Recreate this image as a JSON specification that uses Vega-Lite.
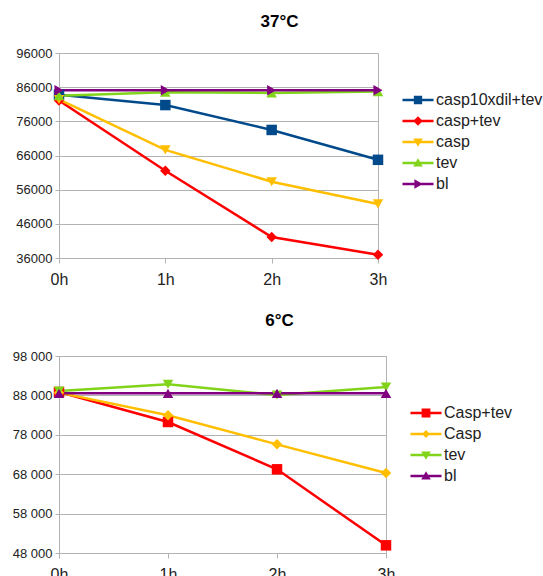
{
  "$schema": "https://vega.github.io/schema/vega-lite/v6.json",
  "background": "white",
  "padding": {"left": 11, "top": 12, "right": 0, "bottom": 5},
  "spacing": 23,
  "datasets": {
    "t37": [
      {"series": "casp10xdil+tev", "time": "0h", "value": 83800},
      {"series": "casp10xdil+tev", "time": "1h", "value": 80760},
      {"series": "casp10xdil+tev", "time": "2h", "value": 73480},
      {"series": "casp10xdil+tev", "time": "3h", "value": 64740},
      {"series": "casp+tev", "time": "0h", "value": 82100},
      {"series": "casp+tev", "time": "1h", "value": 61530},
      {"series": "casp+tev", "time": "2h", "value": 42120},
      {"series": "casp+tev", "time": "3h", "value": 36970},
      {"series": "casp", "time": "0h", "value": 82400},
      {"series": "casp", "time": "1h", "value": 67650},
      {"series": "casp", "time": "2h", "value": 58330},
      {"series": "casp", "time": "3h", "value": 51830},
      {"series": "tev", "time": "0h", "value": 83500},
      {"series": "tev", "time": "1h", "value": 84500},
      {"series": "tev", "time": "2h", "value": 84300},
      {"series": "tev", "time": "3h", "value": 84700},
      {"series": "bl", "time": "0h", "value": 85100},
      {"series": "bl", "time": "1h", "value": 85100},
      {"series": "bl", "time": "2h", "value": 85100},
      {"series": "bl", "time": "3h", "value": 85100}
    ],
    "t6": [
      {"series": "Casp+tev", "time": "0h", "value": 88860},
      {"series": "Casp+tev", "time": "1h", "value": 81250},
      {"series": "Casp+tev", "time": "2h", "value": 69240},
      {"series": "Casp+tev", "time": "3h", "value": 49950},
      {"series": "Casp", "time": "0h", "value": 88700},
      {"series": "Casp", "time": "1h", "value": 82940},
      {"series": "Casp", "time": "2h", "value": 75580},
      {"series": "Casp", "time": "3h", "value": 68300},
      {"series": "tev", "time": "0h", "value": 89120},
      {"series": "tev", "time": "1h", "value": 90810},
      {"series": "tev", "time": "2h", "value": 88100},
      {"series": "tev", "time": "3h", "value": 90130},
      {"series": "bl", "time": "0h", "value": 88520},
      {"series": "bl", "time": "1h", "value": 88520},
      {"series": "bl", "time": "2h", "value": 88520},
      {"series": "bl", "time": "3h", "value": 88520}
    ]
  },
  "config": {
    "font": "Liberation Sans",
    "view": {"stroke": "#b3b3b3", "strokeWidth": 1},
    "axis": {
      "domainColor": "#b3b3b3",
      "tickColor": "#b3b3b3",
      "gridColor": "#b3b3b3",
      "labelColor": "#222222",
      "labelFont": "Liberation Sans",
      "title": null
    },
    "axisX": {"grid": false, "tickSize": 5, "labelFontSize": 16, "labelPadding": 8, "labelAngle": 0},
    "axisY": {"grid": true, "tickSize": 4, "labelFontSize": 13, "labelPadding": 3},
    "title": {"font": "Liberation Sans", "fontSize": 17, "fontWeight": "bold", "color": "#000000"},
    "legend": {
      "labelFont": "Liberation Sans",
      "labelFontSize": 16,
      "labelColor": "#222222",
      "labelOffset": 10,
      "symbolSize": 256,
      "symbolOpacity": 1,
      "symbolStrokeWidth": 0,
      "rowPadding": 5,
      "padding": 0,
      "title": null
    }
  },
  "vconcat": [
    {
      "title": {"text": "37°C", "dx": 61, "offset": 16},
      "width": 319,
      "height": 205,
      "data": {"name": "t37"},
      "encoding": {
        "x": {"field": "time", "type": "ordinal", "scale": {"type": "point", "padding": 0, "domain": ["0h", "1h", "2h", "3h"]}},
        "y": {"field": "value", "type": "quantitative", "scale": {"domain": [36000, 96000], "nice": false, "zero": false}, "axis": {"values": [36000, 46000, 56000, 66000, 76000, 86000, 96000], "format": "d"}}
      },
      "resolve": {"scale": {"color": "independent", "shape": "independent"}},
      "layer": [
        {
          "mark": {"type": "line", "strokeWidth": 2.5},
          "encoding": {
            "color": {"field": "series", "type": "nominal", "scale": {"domain": ["casp10xdil+tev", "casp+tev", "casp", "tev", "bl"], "range": ["#004a8c", "#ff0000", "#ffbf00", "#81d41a", "#800080"]}, "legend": null}
          }
        },
        {
          "mark": {"type": "point", "filled": true, "opacity": 1, "size": 110},
          "encoding": {
            "color": {"field": "series", "type": "nominal", "scale": {"domain": ["casp10xdil+tev", "casp+tev", "casp", "tev", "bl"], "range": ["#004a8c", "#ff0000", "#ffbf00", "#81d41a", "#800080"]}, "legend": null},
            "shape": {"field": "series", "type": "nominal", "scale": {"domain": ["casp10xdil+tev", "casp+tev", "casp", "tev", "bl"], "range": ["square", "diamond", "triangle-down", "triangle-up", "triangle-right"]}, "legend": null}
          }
        },
        {
          "mark": {"type": "point", "filled": true, "opacity": 0},
          "encoding": {
            "color": {"field": "series", "type": "nominal", "scale": {"domain": ["casp10xdil+tev", "casp+tev", "casp", "tev", "bl"], "range": ["#004a8c", "#ff0000", "#ffbf00", "#81d41a", "#800080"]}, "legend": {"orient": "none", "legendX": 351, "legendY": 39, "title": null}},
            "shape": {"field": "series", "type": "nominal", "scale": {"domain": ["casp10xdil+tev", "casp+tev", "casp", "tev", "bl"], "range": [
              "M-1.94,-0.16H1.94V0.16H-1.94Z M-0.52,-0.52H0.52V0.52H-0.52Z",
              "M-1.94,-0.16H1.94V0.16H-1.94Z M0,-0.6L0.6,0L0,0.6L-0.6,0Z",
              "M-1.94,-0.16H1.94V0.16H-1.94Z M-0.6,-0.45L0.6,-0.45L0,0.6Z",
              "M-1.94,-0.16H1.94V0.16H-1.94Z M0,-0.6L0.6,0.45L-0.6,0.45Z",
              "M-1.94,-0.16H1.94V0.16H-1.94Z M-0.45,-0.6L0.6,0L-0.45,0.6Z"
            ]}, "legend": {"orient": "none", "legendX": 351, "legendY": 39, "title": null}}
          }
        }
      ]
    },
    {
      "title": {"text": "6°C", "dx": 57, "offset": 20},
      "width": 327,
      "height": 197,
      "data": {"name": "t6"},
      "encoding": {
        "x": {"field": "time", "type": "ordinal", "scale": {"type": "point", "padding": 0, "domain": ["0h", "1h", "2h", "3h"]}},
        "y": {"field": "value", "type": "quantitative", "scale": {"domain": [48000, 98000], "nice": false, "zero": false}, "axis": {"values": [48000, 58000, 68000, 78000, 88000, 98000], "labelExpr": "replace(format(datum.value, ','), ',', ' ')"}}
      },
      "resolve": {"scale": {"color": "independent", "shape": "independent"}},
      "layer": [
        {
          "mark": {"type": "line", "strokeWidth": 2.5},
          "encoding": {
            "color": {"field": "series", "type": "nominal", "scale": {"domain": ["Casp+tev", "Casp", "tev", "bl"], "range": ["#ff0000", "#ffbf00", "#81d41a", "#800080"]}, "legend": null}
          }
        },
        {
          "mark": {"type": "point", "filled": true, "opacity": 1, "size": 110},
          "encoding": {
            "color": {"field": "series", "type": "nominal", "scale": {"domain": ["Casp+tev", "Casp", "tev", "bl"], "range": ["#ff0000", "#ffbf00", "#81d41a", "#800080"]}, "legend": null},
            "shape": {"field": "series", "type": "nominal", "scale": {"domain": ["Casp+tev", "Casp", "tev", "bl"], "range": ["square", "diamond", "triangle-down", "triangle-up"]}, "legend": null}
          }
        },
        {
          "mark": {"type": "point", "filled": true, "opacity": 0},
          "encoding": {
            "color": {"field": "series", "type": "nominal", "scale": {"domain": ["Casp+tev", "Casp", "tev", "bl"], "range": ["#ff0000", "#ffbf00", "#81d41a", "#800080"]}, "legend": {"orient": "none", "legendX": 359, "legendY": 49, "title": null}},
            "shape": {"field": "series", "type": "nominal", "scale": {"domain": ["Casp+tev", "Casp", "tev", "bl"], "range": [
              "M-1.94,-0.16H1.94V0.16H-1.94Z M-0.55,-0.55H0.55V0.55H-0.55Z",
              "M-1.94,-0.16H1.94V0.16H-1.94Z M0,-0.5L0.5,0L0,0.5L-0.5,0Z",
              "M-1.94,-0.16H1.94V0.16H-1.94Z M-0.6,-0.45L0.6,-0.45L0,0.6Z",
              "M-1.94,-0.16H1.94V0.16H-1.94Z M0,-0.6L0.6,0.45L-0.6,0.45Z"
            ]}, "legend": {"orient": "none", "legendX": 359, "legendY": 49, "title": null}}
          }
        }
      ]
    }
  ]
}
